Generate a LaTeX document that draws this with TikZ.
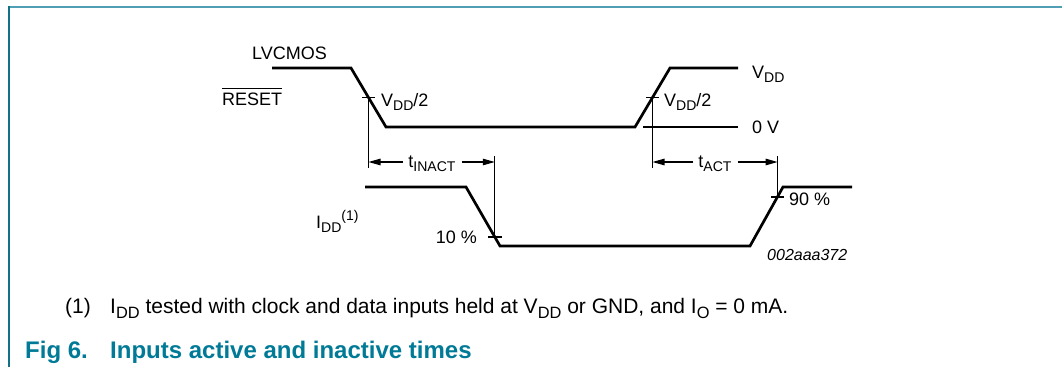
\documentclass[tikz,border=0pt]{standalone}
\usepackage{graphicx}
\usepackage{fontspec}
\setmainfont{Liberation Sans}
\usetikzlibrary{arrows.meta}
\definecolor{capteal}{RGB}{0,122,150}
\definecolor{frametop}{RGB}{80,158,180}
\definecolor{frameleft}{RGB}{20,112,136}
\newcommand\lsub[1]{\raisebox{-0.24em}{\scalebox{0.78}{#1}}}
\newcommand\lsup[1]{\raisebox{0.42em}{\scalebox{0.78}{#1}}}
\begin{document}
\begin{tikzpicture}[x=1pt,y=-1pt,
  wave/.style={line width=2.7pt, line join=miter},
  thinln/.style={line width=1.1pt},
  lbl/.style={anchor=base west, inner sep=0pt, font=\fontsize{18}{21}\selectfont},
  lble/.style={anchor=base east, inner sep=0pt, font=\fontsize{18}{21}\selectfont},
  lblc/.style={anchor=base, inner sep=0pt, font=\fontsize{18}{21}\selectfont},
  note/.style={anchor=base west, inner sep=0pt, font=\fontsize{21}{24}\selectfont},
  capt/.style={anchor=base west, inner sep=0pt, text=capteal, font=\fontsize{24}{27}\selectfont\bfseries},
  dimarr/.style={line width=1.1pt, -{Triangle[length=12pt,width=6.5pt]}}]
\useasboundingbox (0,0) rectangle (1062,367);
% frame
\draw[line width=2pt, draw=frametop] (9,7) -- (1062,7);
\draw[line width=2pt, draw=frameleft] (9,6) -- (9,367);

% top waveform
\draw[wave] (272,68) -- (351,68) -- (386,127) -- (635,127) -- (670,68) -- (738,68);
\coordinate (zl) at (643,127);
\coordinate (zr) at (738,127);
\draw[thinln] (zl) -- (zr);
\coordinate (m1) at (368.5,97.5);
\coordinate (m2) at (652.5,97.5);
\coordinate (d1) at (368.5,168);
\coordinate (d2) at (652.5,168);
\draw[thinln] ([xshift=-6.5pt]m1) -- ([xshift=6.5pt]m1);
\draw[thinln] ([xshift=-6.5pt]m2) -- ([xshift=6.5pt]m2);
\draw[thinln] (m1) -- (d1);
\draw[thinln] (m2) -- (d2);

% bottom waveform
\draw[wave] (365,187) -- (466,187) -- (500,246) -- (750,246) -- (783,187) -- (852,187);
\coordinate (p10) at (494.8,237);
\coordinate (p90) at (777.6,197);
\coordinate (u10) at (494.8,156);
\coordinate (u90) at (777.6,156);
\draw[thinln] ([xshift=-7pt]p10) -- ([xshift=7pt]p10);
\draw[thinln] ([xshift=-6.5pt]p90) -- ([xshift=6.5pt]p90);
\draw[thinln] (u10) -- (p10);
\draw[thinln] (u90) -- (p90);

% dimension arrows
\coordinate (ia) at (368.5,162);
\coordinate (ib) at (494.8,162);
\coordinate (aa) at (652.5,162);
\coordinate (ab) at (777.6,162);
\node[lblc] (tinact) at (432,167) {t\lsub{INACT}};
\node[lblc] (tact) at (715,167) {t\lsub{ACT}};
\draw[dimarr] ([xshift=-5pt]tinact.west |- ia) -- (ia);
\draw[dimarr] ([xshift=6pt]tinact.east |- ib) -- (ib);
\draw[dimarr] ([xshift=-5pt]tact.west |- aa) -- (aa);
\draw[dimarr] ([xshift=6pt]tact.east |- ab) -- (ab);

% labels
\node[lbl] (lvcmos) at (252,59) {LVCMOS};
\node[lbl] (reset) at (222,105) {RESET};
\draw[line width=1pt] ([yshift=4pt]reset.north west) -- ([yshift=4pt]reset.north east);
\node[lbl] (vdd) at (752,78) {V\lsub{DD}};
\node[lbl] (zerov) at (752,133) {0 V};
\node[lbl] (half1) at (381,106) {V\lsub{DD}/2};
\node[lbl] (half2) at (664,106) {V\lsub{DD}/2};
\node[lbl] (idd) at (316,228) {I\lsub{DD}\lsup{(1)}};
\node[lble] (ten) at (477,243) {10 \%};
\node[lbl] (ninety) at (789,205) {90 \%};
\node[anchor=base west, inner sep=0pt, font=\fontsize{16}{19}\selectfont\itshape] (code) at (767,260) {002aaa372};

% footnote and caption
\node[note] (fnnum) at (65,313) {(1)};
\node[note] (fntext) at (110,313) {I\lsub{DD} tested with clock and data inputs held at V\lsub{DD} or GND, and I\lsub{O} = 0 mA.};
\node[capt] (fig) at (25,358) {Fig 6.};
\node[capt] (title) at (110,358) {Inputs active and inactive times};
\end{tikzpicture}
\end{document}
